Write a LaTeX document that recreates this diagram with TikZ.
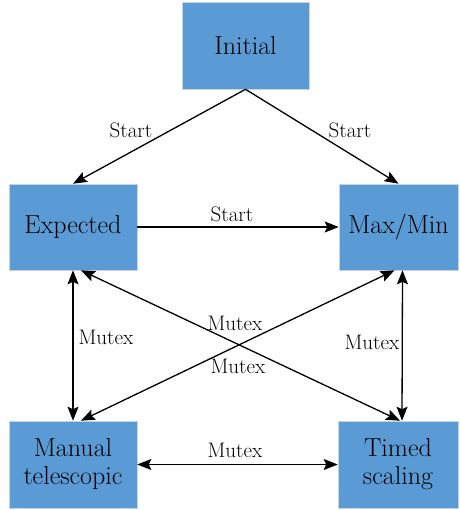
\documentclass[tikz,border=0pt]{standalone}
\usetikzlibrary{arrows.meta}
\definecolor{boxblue}{HTML}{5B9BD5}
\definecolor{boxedge}{HTML}{C9D3DD}
\begin{document}
\begin{tikzpicture}[x=1pt,y=-1pt,
  tip/.tip={Stealth[length=14pt,width=11pt,inset=2.5pt]},
  state/.style={fill=boxblue,draw=boxedge,line width=0.6pt,inner sep=0pt,
    align=center,font=\fontsize{26}{28}\selectfont},
  link/.style={line width=1.3pt,-tip},
  both/.style={line width=1.3pt,tip-tip},
  lab/.style={font=\fontsize{21}{23}\selectfont,inner sep=1pt}]
\useasboundingbox (0,0) rectangle (459,510);
\node[state,minimum width=127pt,minimum height=87pt] (init) at (245.5,45.5) {Initial};
\node[state,minimum width=128pt,minimum height=86pt] (exp) at (73,227) {Expected};
\node[state,minimum width=119pt,minimum height=86pt] (max) at (398.5,227) {Max/Min};
\node[state,minimum width=128pt,minimum height=87pt] (man) at (73,464.5) {Manual\\telescopic};
\node[state,minimum width=120pt,minimum height=87pt] (tim) at (398,464.5) {Timed\\scaling};
% start transitions
\draw[link] (init.south) -- (exp.north);
\draw[link] (init.south) -- (max.north);
\draw[link] (exp.east) -- (max.west);
\node[lab] (s1) at (131,130) {Start};
\node[lab] (s2) at (350,130) {Start};
\node[lab] (s3) at (232,214) {Start};
% mutual exclusions
\draw[both] (exp.south) -- (man.north);
\draw[both] ([xshift=4pt]max.south) -- ([xshift=4pt]tim.north);
\draw[both] ([xshift=8pt]exp.south) -- ([xshift=2pt]tim.north);
\draw[both] ([xshift=-4pt]max.south) -- ([xshift=8pt]man.north);
\draw[both] (man.east) -- (tim.west);
\node[lab] (m1) at (106,337) {Mutex};
\node[lab] (m2) at (372,342) {Mutex};
\node[lab] (m3) at (235,323) {Mutex};
\node[lab] (m4) at (238,366) {Mutex};
\node[lab] (m5) at (235,450) {Mutex};
\end{tikzpicture}
\end{document}
